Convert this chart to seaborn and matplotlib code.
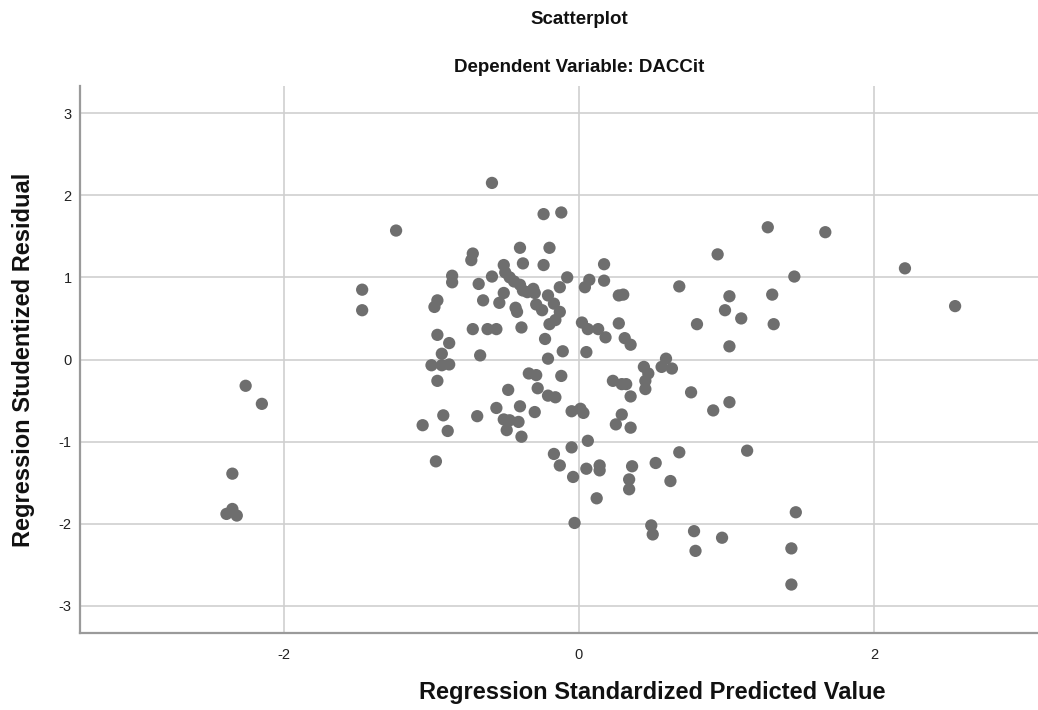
import matplotlib
matplotlib.use("Agg")
import matplotlib.pyplot as plt
import seaborn as sns
import pandas as pd

# Regression Standardized Predicted Value (x) and Studentized Residual (y)
pred = [
    -2.26, -2.15, -2.35, -2.39, -2.35, -2.32,
    -1.47, -1.47, -1.24,
    -0.59, -0.24, -0.12, -0.40, -0.20, -0.72, -0.73, -0.38, -0.24, -0.51, -0.50,
    -0.86, -0.86, -0.59, -0.47, -0.44, -0.40, -0.38, -0.68, -0.35, -0.31,
    -0.30, -0.51, -0.54, -0.65, -0.43, -0.42, -0.21, -0.17, -0.13, -0.08,
    -0.29, -0.25, -0.13, -0.16, -0.20, -0.98, -0.96, -0.72, -0.62, -0.56,
    -0.39, -0.96, -0.88, -0.23, -0.11, -0.93, -0.67, -0.21, 0.05, 0.07,
    0.04, 0.02, 0.06, 0.17,
    -1.00, -0.93, -0.88, -0.96, -0.34, -0.29, -0.12, -0.48, -0.28, -0.21,
    -0.16, -0.56, -0.40, -0.30, -0.05, 0.01, 0.03, -0.92, -0.69, -0.51,
    -0.47, -0.41, -1.06, -0.89, -0.49, -0.39, 0.06, -0.05, -0.17, -0.13,
    -0.04, 0.05, 0.14, 0.12, -0.97, -0.03,
    1.28, 0.94, 0.17, 1.46, 0.68, 0.27, 0.30, 1.02, 1.31, 0.99,
    1.10, 0.80, 1.32, 0.13, 0.18, 0.27, 0.31, 0.35, 1.02, 0.59,
    0.56, 0.63, 0.44, 0.47, 0.45, 0.45, 0.23, 0.29, 0.32, 0.35,
    0.76, 1.02, 0.91, 0.29,
    0.25, 0.35, 0.68, 1.14, 0.14, 0.36, 0.52, 0.34, 0.34, 0.62,
    1.47, 0.49, 0.50, 0.78, 0.79, 0.97, 1.44, 1.44,
    1.67, 2.21, 2.55,
]
resid = [
    -0.32, -0.54, -1.39, -1.88, -1.82, -1.90,
    0.85, 0.60, 1.57,
    2.15, 1.77, 1.79, 1.36, 1.36, 1.29, 1.21, 1.17, 1.15, 1.15, 1.06,
    1.02, 0.94, 1.01, 1.00, 0.95, 0.91, 0.84, 0.92, 0.82, 0.86,
    0.81, 0.81, 0.69, 0.72, 0.63, 0.58, 0.78, 0.68, 0.88, 1.00,
    0.67, 0.60, 0.58, 0.48, 0.43, 0.64, 0.72, 0.37, 0.37, 0.37,
    0.39, 0.30, 0.20, 0.25, 0.10, 0.07, 0.05, 0.01, 0.09, 0.97,
    0.88, 0.45, 0.37, 1.16,
    -0.07, -0.07, -0.06, -0.26, -0.17, -0.19, -0.20, -0.37, -0.35, -0.44,
    -0.46, -0.59, -0.57, -0.64, -0.63, -0.60, -0.65, -0.68, -0.69, -0.73,
    -0.74, -0.76, -0.80, -0.87, -0.86, -0.94, -0.99, -1.07, -1.15, -1.29,
    -1.43, -1.33, -1.29, -1.69, -1.24, -1.99,
    1.61, 1.28, 0.96, 1.01, 0.89, 0.78, 0.79, 0.77, 0.79, 0.60,
    0.50, 0.43, 0.43, 0.37, 0.27, 0.44, 0.26, 0.18, 0.16, 0.01,
    -0.09, -0.11, -0.09, -0.17, -0.26, -0.36, -0.26, -0.30, -0.30, -0.45,
    -0.40, -0.52, -0.62, -0.67,
    -0.79, -0.83, -1.13, -1.11, -1.35, -1.30, -1.26, -1.46, -1.58, -1.48,
    -1.86, -2.02, -2.13, -2.09, -2.33, -2.17, -2.30, -2.74,
    1.55, 1.11, 0.65,
]

x_ticks = [-2, 0, 2]
y_ticks = [-3, -2, -1, 0, 1, 2, 3]

title_line1 = "Scatterplot"
title_line2 = "Dependent Variable: DACCit"
x_label = "Regression Standardized Predicted Value"
y_label = "Regression Studentized Residual"

df = pd.DataFrame({"pred": pred, "resid": resid})

sns.set_theme(style="white")
plt.rcParams["font.family"] = ["Liberation Sans", "DejaVu Sans"]

fig = plt.figure(figsize=(10.38, 7.10), dpi=100)
ax = fig.add_axes([80 / 1038, 1 - 633 / 710, 1 - 80 / 1038, (633 - 86) / 710])

sns.scatterplot(data=df, x="pred", y="resid", ax=ax, s=78, color="#6e6e6e",
                edgecolor="none", linewidth=0, zorder=3)

ax.set_xlim(-3.383, 3.112)
ax.set_ylim(-3.33, 3.33)
ax.set_xticks(x_ticks)
ax.set_yticks(y_ticks)
ax.set_xticklabels([str(t) for t in x_ticks])
ax.set_yticklabels([str(t) for t in y_ticks])
ax.grid(True, color="#cfcfcf", linewidth=1.2, zorder=0)
ax.tick_params(axis="both", length=0, labelsize=10.5, colors="#222222")
ax.tick_params(axis="x", pad=11)
ax.tick_params(axis="y", pad=6)

for side in ["top", "right"]:
    ax.spines[side].set_visible(False)
for side in ["left", "bottom"]:
    ax.spines[side].set_color("#9a9a9a")
    ax.spines[side].set_linewidth(1.6)

ax.set_xlabel("")
ax.set_ylabel("")
fig.text(652 / 1038, 1 - 693 / 710, x_label, ha="center", va="center",
         fontsize=17, fontweight="bold", color="#111111")
fig.text(24 / 1038, 1 - 360 / 710, y_label, ha="center", va="center",
         rotation=90, fontsize=17, fontweight="bold", color="#111111")
fig.text(579 / 1038, 1 - 20 / 710, title_line1, ha="center", va="center",
         fontsize=13.5, fontweight="bold", color="#111111")
fig.text(579 / 1038, 1 - 67 / 710, title_line2, ha="center", va="center",
         fontsize=13.5, fontweight="bold", color="#111111")

fig.savefig("out.png", dpi=100, facecolor="white")
